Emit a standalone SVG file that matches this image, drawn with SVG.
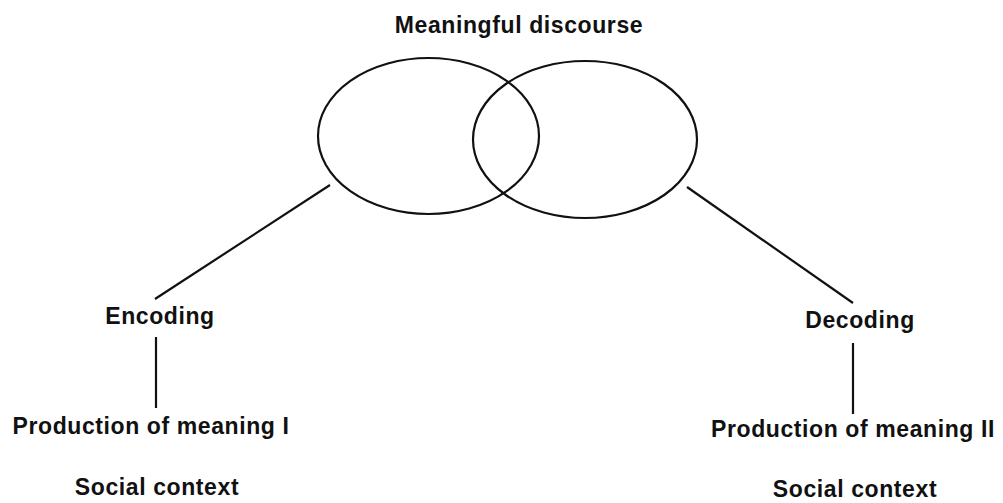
<svg xmlns="http://www.w3.org/2000/svg" width="1003" height="503" viewBox="0 0 1003 503">
<style>
text { font-family: "Liberation Sans", Arial, sans-serif; font-size: 23px; font-weight: bold; fill: #111; text-anchor: middle; letter-spacing: 0.6px; }
.shape { fill: none; stroke: #111; stroke-width: 2.2; }
.conn line { stroke: #111; stroke-width: 2.2; }
</style>
<rect width="1003" height="503" fill="#fff"/>
<g id="discourse">
<text x="519" y="33">Meaningful discourse</text>
<ellipse class="shape" cx="428.5" cy="136" rx="110.5" ry="78"/>
<ellipse class="shape" cx="585" cy="139.5" rx="112" ry="78.5"/>
</g>
<g id="encoding"><text x="160" y="324">Encoding</text></g>
<g id="production1"><text x="151" y="434">Production of meaning I</text></g>
<g id="social1"><text x="157" y="495">Social context</text></g>
<g id="decoding"><text x="860" y="328">Decoding</text></g>
<g id="production2"><text x="853" y="437">Production of meaning II</text></g>
<g id="social2"><text x="855" y="497">Social context</text></g>
<g class="conn" id="connectors">
<line x1="330" y1="185" x2="155" y2="299"/>
<line x1="687" y1="187" x2="853" y2="303"/>
<line x1="156" y1="337" x2="156" y2="408"/>
<line x1="853" y1="343" x2="853" y2="414"/>
</g>
</svg>
